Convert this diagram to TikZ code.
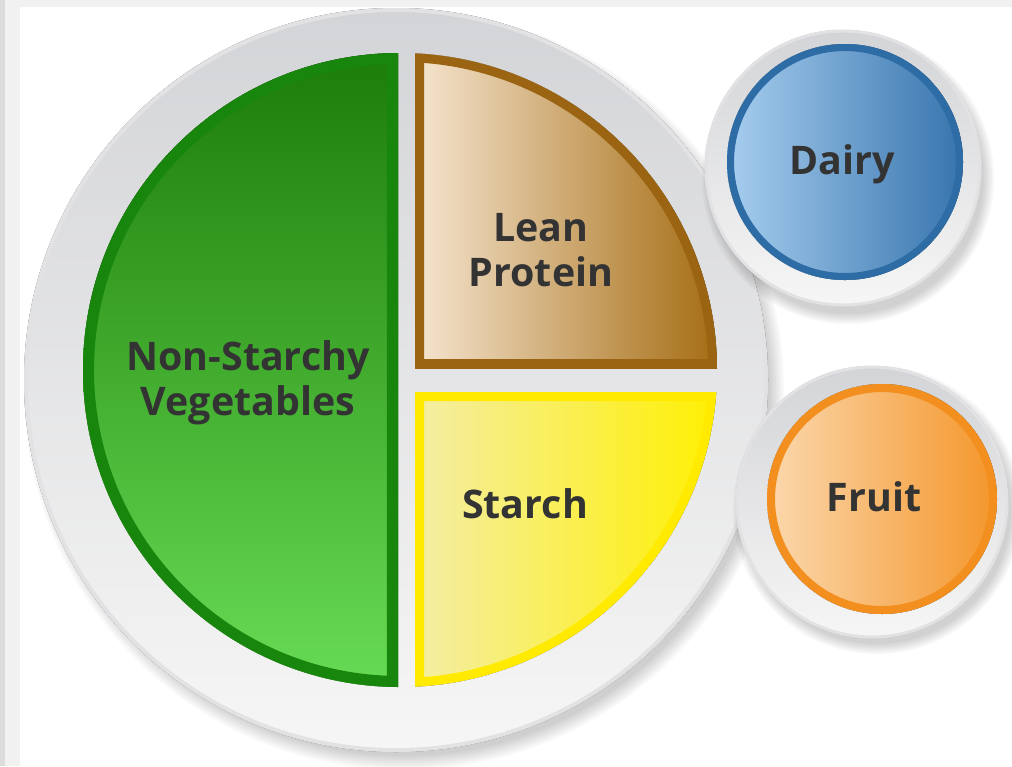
\documentclass[tikz,border=0pt]{standalone}
\usepackage{fontspec}
\setmainfont{Open Sans}
\usepackage{tikz}

\definecolor{edgegray}{HTML}{DCDCDC}
\definecolor{edgelight}{HTML}{F1F1F1}
\definecolor{plategray}{HTML}{D3D4D7}
\definecolor{platelight}{HTML}{F6F6F6}
\definecolor{rimgray}{HTML}{E2E2E4}
\definecolor{labelgray}{HTML}{333333}
\definecolor{vegdark}{HTML}{1C7C08}
\definecolor{vegmid}{HTML}{3DA828}
\definecolor{veglight}{HTML}{68DC56}
\definecolor{vegline}{HTML}{18860C}
\definecolor{proteinlight}{HTML}{F6E5D0}
\definecolor{proteinmid}{HTML}{CF9C58}
\definecolor{proteindark}{HTML}{A46C12}
\definecolor{proteinline}{HTML}{9A6412}
\definecolor{starchlight}{HTML}{F4EEA6}
\definecolor{starchdark}{HTML}{FFF000}
\definecolor{starchline}{HTML}{FFEA00}
\definecolor{dairylight}{HTML}{A7CEEF}
\definecolor{dairydark}{HTML}{3774AD}
\definecolor{dairyline}{HTML}{2E6CA6}
\definecolor{fruitlight}{HTML}{FBD8AE}
\definecolor{fruitdark}{HTML}{F4962A}
\definecolor{fruitline}{HTML}{F28F1E}

\begin{document}
\begin{tikzpicture}[x=0.01cm, y=-0.01cm,
    food/.style={font=\bfseries\fontsize{11.2}{12.7}\selectfont, text=labelgray, align=center}]
\useasboundingbox (0,0) rectangle (1012,766);
\fill[white] (0,0) rectangle (1012,766);
\fill[edgegray] (0,0) rectangle (5,766);
\fill[edgelight] (5,7) rectangle (20,766);
\fill[edgelight] (5,0) rectangle (1012,7);

% plate
\foreach \i in {1,...,8}
    \fill[black, opacity=0.025] (404,390) circle[radius=364+2*\i];
\fill[top color=plategray, bottom color=platelight] (396,380) circle[radius=372];
\draw[rimgray, line width=0.04cm] (396,380) circle[radius=370];

\begin{scope}
    \clip (400,370) circle[radius=317];
    \clip (0,0) rectangle (398,766);
    \fill[top color=vegdark, middle color=vegmid, bottom color=veglight] (80,50) rectangle (400,690);
    \draw[vegline, line width=0.22cm] (400,370) circle[radius=317] (0,0) rectangle (398,766);
\end{scope}
\begin{scope}
    \clip (400,370) circle[radius=317];
    \clip (415,0) rectangle (1012,368);
    \fill[left color=proteinlight, middle color=proteinmid, right color=proteindark] (415,50) rectangle (720,370);
    \draw[proteinline, line width=0.18cm] (400,370) circle[radius=317] (415,0) rectangle (1012,368);
\end{scope}
\begin{scope}
    \clip (400,370) circle[radius=317];
    \clip (415,392) rectangle (1012,766);
    \fill[left color=starchlight, right color=starchdark] (415,390) rectangle (720,690);
    \draw[starchline, line width=0.18cm] (400,370) circle[radius=317] (415,392) rectangle (1012,766);
\end{scope}

% side dishes
\foreach \i in {1,...,6}
    \fill[black, opacity=0.03] (848,178) circle[radius=134+2*\i];
\fill[top color=plategray, bottom color=platelight] (843,168) circle[radius=138];
\draw[rimgray, line width=0.03cm] (843,168) circle[radius=137];
\fill[left color=dairylight, right color=dairydark] (845,162) circle[radius=118];
\draw[dairyline, line width=0.07cm] (845,162) circle[radius=114.5];

\foreach \i in {1,...,6}
    \fill[black, opacity=0.03] (877,510) circle[radius=132+2*\i];
\fill[top color=plategray, bottom color=platelight] (872,502) circle[radius=136];
\draw[rimgray, line width=0.03cm] (872,502) circle[radius=135];
\fill[left color=fruitlight, right color=fruitdark] (882,499) circle[radius=115];
\draw[fruitline, line width=0.08cm] (882,499) circle[radius=111];

\node[food] (veg) at (248,383) {Non-Starchy\\Vegetables};
\node[food] (protein) at (541,250) {Lean\\Protein};
\node[food] (starch) at (525,504) {Starch};
\node[food] (dairy) at (842,164) {Dairy};
\node[food] (fruit) at (874,497) {Fruit};
\end{tikzpicture}
\end{document}
